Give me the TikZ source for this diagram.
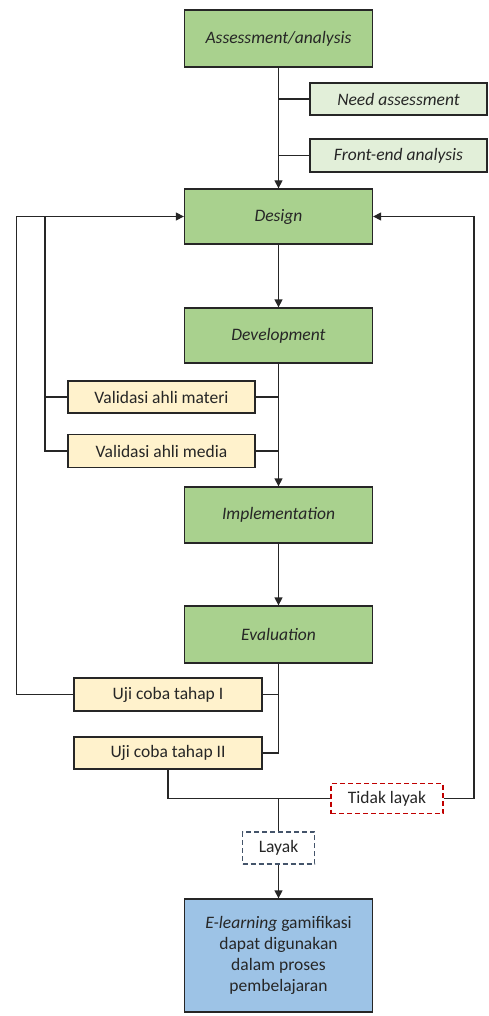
\documentclass[tikz,border=0pt]{standalone}
\usepackage{fontspec}
\setmainfont{Carlito}
\usetikzlibrary{arrows.meta}
\definecolor{gfill}{HTML}{A9D18E}
\definecolor{lgfill}{HTML}{E2EFD9}
\definecolor{yfill}{HTML}{FFF2CC}
\definecolor{bfill}{HTML}{9DC3E6}
\definecolor{edge}{HTML}{262626}
\definecolor{redd}{HTML}{C00000}
\definecolor{slate}{HTML}{44546A}
\begin{document}
\begin{tikzpicture}[x=1pt,y=-1pt,
  base/.style={draw=edge,line width=1.3pt,inner sep=0pt,align=center,text=black!85,font=\fontsize{17.5}{21}\selectfont},
  phase/.style={base,fill=gfill,minimum width=188pt,font=\fontsize{17.5}{21}\selectfont\itshape},
  sub/.style={base,fill=lgfill,font=\fontsize{17.5}{21}\selectfont\itshape},
  val/.style={base,fill=yfill},
  dashbox/.style={base,fill=white,dashed,dash pattern=on 5pt off 3pt},
  conn/.style={draw=edge,line width=1.3pt},
  arr/.style={conn,-{Triangle[length=8pt,width=8pt]}}]
\useasboundingbox (0,0) rectangle (488,1016);
% nodes
\node[phase,minimum height=57pt] (assess) at (278.5,38.5) {Assessment/analysis};
\node[sub,minimum width=177pt,minimum height=32pt] (need) at (398.5,99) {Need assessment};
\node[sub,minimum width=177pt,minimum height=33pt] (front) at (398.5,155.5) {Front-end analysis};
\node[phase,minimum height=55pt] (design) at (278.5,216.5) {Design};
\node[phase,minimum height=55pt] (devel) at (278.5,335.5) {Development};
\node[val,minimum width=187pt,minimum height=32pt] (vmat) at (161.5,397) {Validasi ahli materi};
\node[val,minimum width=187pt,minimum height=33pt] (vmed) at (161.5,451) {Validasi ahli media};
\node[phase,minimum height=56pt] (impl) at (278.5,515) {Implementation};
\node[phase,minimum height=57pt] (eval) at (278.5,634.5) {Evaluation};
\node[val,minimum width=188pt,minimum height=33pt] (uji1) at (168,694.5) {Uji coba tahap I};
\node[val,minimum width=188pt,minimum height=32pt] (uji2) at (168,753) {Uji coba tahap II};
\node[dashbox,draw=redd,minimum width=112pt,minimum height=30pt] (tidak) at (387,798.5) {Tidak layak};
\node[dashbox,draw=slate,minimum width=72pt,minimum height=32pt] (layak) at (278.5,848) {Layak};
\node[base,fill=bfill,minimum width=188pt,minimum height=113pt] (final) at (278.5,955.5) {\textit{E-learning} gamifikasi\\dapat digunakan\\dalam proses\\pembelajaran};
% junction coordinates
\coordinate (lx1) at (16.7,216.5);
\coordinate (lx2) at (45,216.5);
\coordinate (rx) at (474,216.5);
\coordinate (ejoin) at (278.5,753);
\coordinate (bjoin) at (278.5,798.5);
% main flow
\draw[arr] (assess) -- (design);
\draw[conn] (need.west) -- (need.west -| assess.south);
\draw[conn] (front.west) -- (front.west -| assess.south);
\draw[arr] (design) -- (devel);
\draw[arr] (devel) -- (impl);
\draw[conn] (vmat.east) -- (vmat.east -| devel.south);
\draw[conn] (vmed.east) -- (vmed.east -| devel.south);
\draw[arr] (impl) -- (eval);
\draw[conn] (eval.south) -- (ejoin) -- (uji2.east);
\draw[conn] (uji1.east) -- (uji1.east -| eval.south);
% left loops
\draw[arr] (uji1.west) -- (uji1.west -| lx1) -- (lx1) -- (design.west);
\draw[conn] (vmed.west) -- (vmed.west -| lx2) -- (lx2);
\draw[conn] (vmat.west) -- (vmat.west -| lx2);
% bottom
\draw[conn] (uji2.south) -- (uji2.south |- bjoin) -- (tidak.west);
\draw[arr] (tidak.east) -- (tidak.east -| rx) -- (rx) -- (design.east);
\draw[conn] (bjoin) -- (layak.north);
\draw[arr] (layak) -- (final);
\end{tikzpicture}
\end{document}
